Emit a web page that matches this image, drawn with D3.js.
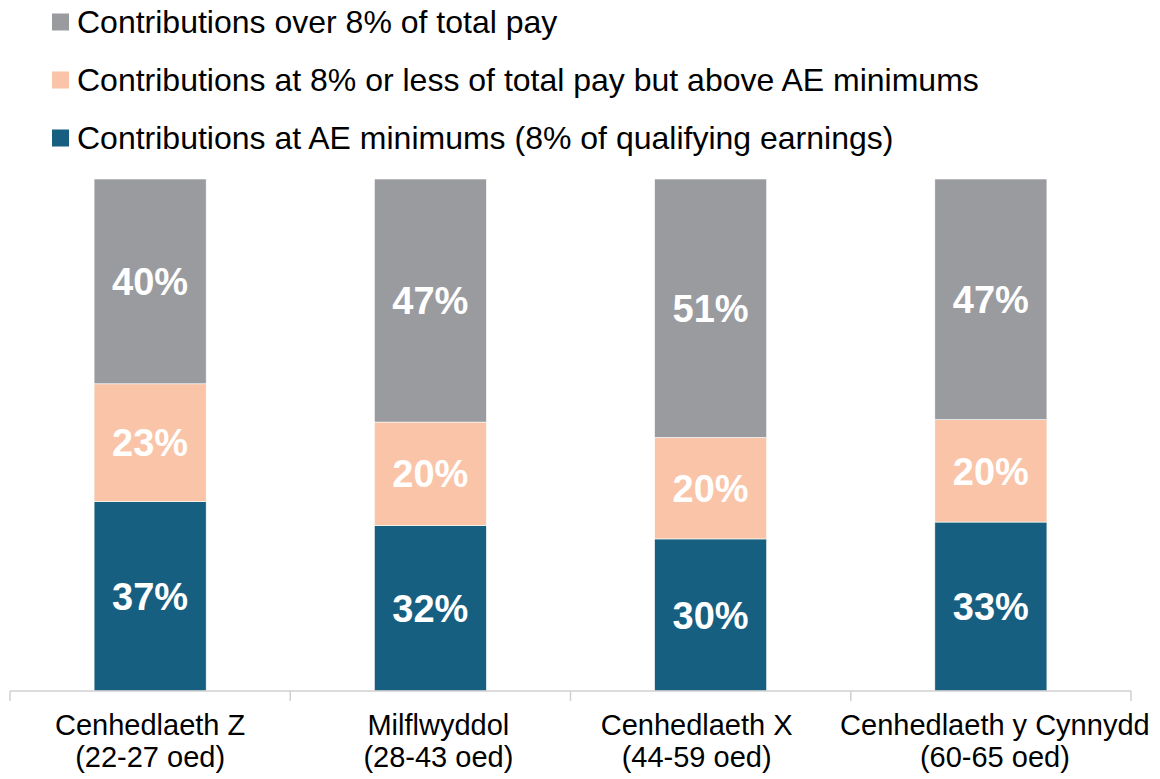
<!DOCTYPE html>
<html>
<head>
<meta charset="utf-8">
<script src="https://cdn.jsdelivr.net/npm/d3@7"></script>
<style>
  html, body { margin: 0; padding: 0; background: #fff; }
  svg { display: block; font-family: Arial, "Liberation Sans", sans-serif; }
</style>
</head>
<body>
<svg id="chart" width="1160" height="779"></svg>
<script>
// Pension contribution bands by generation (percent of members)
const generations = [
  ["Cenhedlaeth Z", "(22-27 oed)"],
  ["Milflwyddol", "(28-43 oed)"],
  ["Cenhedlaeth X", "(44-59 oed)"],
  ["Cenhedlaeth y Cynnydd", "(60-65 oed)"]
];
const atMinimum   = [37, 32, 30, 33];   // AE minimums (8% of qualifying earnings)
const upTo8Pct    = [23, 20, 20, 20];   // 8% or less of total pay, above AE minimums
const over8Pct    = [40, 47, 51, 47];   // over 8% of total pay

const seriesKeys = ["min", "mid", "over"];
const seriesNames = {
  over: "Contributions over 8% of total pay",
  mid: "Contributions at 8% or less of total pay but above AE minimums",
  min: "Contributions at AE minimums (8% of qualifying earnings)"
};
const colours = { min: "#175F81", mid: "#F9C4A7", over: "#9A9B9F" };

const rows = generations.map((g, i) => ({
  key: g[0], lines: g, min: atMinimum[i], mid: upTo8Pct[i], over: over8Pct[i]
}));

const svg = d3.select("#chart");
const plot = { left: 10, right: 1131, top: 179, bottom: 691 };

const x = d3.scaleBand()
  .domain(rows.map(d => d.key))
  .range([plot.left, plot.right])
  .paddingInner(0.6)
  .paddingOuter(0.3);

const y = d3.scaleLinear().domain([0, 1]).range([plot.bottom, plot.top]);

const stacked = d3.stack().keys(seriesKeys).offset(d3.stackOffsetExpand)(rows);

// Bars
const layers = svg.append("g").selectAll("g")
  .data(stacked)
  .join("g")
  .attr("fill", s => colours[s.key]);

layers.selectAll("rect")
  .data(s => s.map(p => Object.assign(p, { series: s.key })))
  .join("rect")
  .attr("x", p => x(p.data.key))
  .attr("width", x.bandwidth())
  .attr("y", p => y(p[1]))
  .attr("height", p => y(p[0]) - y(p[1]))
  .attr("stroke", "#ffffff")
  .attr("stroke-width", 0.6);

// Value labels inside each segment
layers.selectAll("text")
  .data(s => s)
  .join("text")
  .attr("x", p => x(p.data.key) + x.bandwidth() / 2)
  .attr("y", p => (y(p[0]) + y(p[1])) / 2)
  .attr("dy", "0.36em")
  .attr("text-anchor", "middle")
  .attr("fill", "#ffffff")
  .attr("font-weight", "bold")
  .attr("font-size", 38)
  .text(p => p.data[p.series] + "%");

// Category axis: baseline with ticks at band boundaries
const axisG = svg.append("g");
const step = x.step();
const edges = d3.range(rows.length + 1).map(i => plot.left + i * step);
axisG.append("line")
  .attr("x1", plot.left).attr("x2", plot.right)
  .attr("y1", plot.bottom).attr("y2", plot.bottom)
  .attr("stroke", "#D0D0D0").attr("stroke-width", 1.5);
axisG.selectAll("line.tick")
  .data(edges)
  .join("line")
  .attr("class", "tick")
  .attr("x1", d => d).attr("x2", d => d)
  .attr("y1", plot.bottom).attr("y2", plot.bottom + 10)
  .attr("stroke", "#D0D0D0").attr("stroke-width", 1.5);

// small horizontal nudges so wide wrapped labels sit as in the layout
const labelNudge = [0, 8, -14, 4];
const catLabels = axisG.selectAll("text.cat")
  .data(rows)
  .join("text")
  .attr("class", "cat")
  .attr("x", (d, i) => x(d.key) + x.bandwidth() / 2 + labelNudge[i])
  .attr("y", 735)
  .attr("text-anchor", "middle")
  .attr("font-size", 29)
  .attr("fill", "#000");
catLabels.selectAll("tspan")
  .data(d => d.lines)
  .join("tspan")
  .attr("x", function () { return d3.select(this.parentNode).attr("x"); })
  .attr("dy", (d, i) => i === 0 ? 0 : 32)
  .text(d => d);

// Legend
const legendOrder = ["over", "mid", "min"];
const legend = svg.append("g").selectAll("g")
  .data(legendOrder)
  .join("g")
  .attr("transform", (d, i) => `translate(52, ${22 + i * 58})`);
legend.append("rect")
  .attr("x", 0).attr("y", -8.5)
  .attr("width", 17).attr("height", 17)
  .attr("fill", d => colours[d]);
legend.append("text")
  .attr("x", 25).attr("y", 0)
  .attr("dy", "0.35em")
  .attr("font-size", 32)
  .attr("fill", "#000")
  .text(d => seriesNames[d]);
</script>
</body>
</html>
